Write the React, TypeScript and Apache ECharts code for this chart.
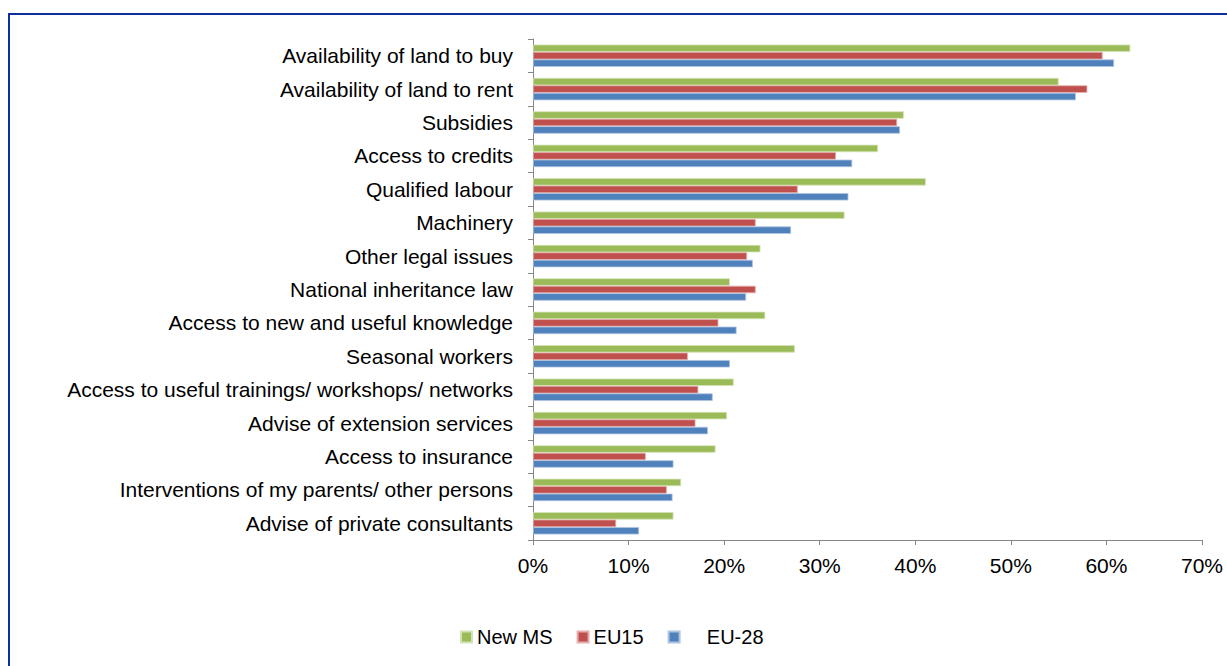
import React, { useEffect, useRef } from "react";
import * as echarts from "echarts";

const categories = [
  "Availability of land to buy",
  "Availability of land to rent",
  "Subsidies",
  "Access to credits",
  "Qualified labour",
  "Machinery",
  "Other legal issues",
  "National inheritance law",
  "Access to new and useful knowledge",
  "Seasonal workers",
  "Access to useful trainings/ workshops/ networks",
  "Advise of extension services",
  "Access to insurance",
  "Interventions of my parents/ other persons",
  "Advise of private consultants",
];

const newMS = [62.5, 55.0, 38.8, 36.1, 41.1, 32.6, 23.8, 20.6, 24.3, 27.4, 21.0, 20.3, 19.1, 15.5, 14.7];
const eu15 = [59.6, 58.0, 38.1, 31.7, 27.7, 23.3, 22.4, 23.3, 19.4, 16.2, 17.3, 17.0, 11.8, 14.0, 8.7];
const eu28 = [60.8, 56.8, 38.4, 33.4, 33.0, 27.0, 23.0, 22.3, 21.3, 20.6, 18.8, 18.3, 14.7, 14.6, 11.1];

const xTicks = [0, 10, 20, 30, 40, 50, 60, 70];

const FONT = "'Liberation Sans', Arial, sans-serif";

export default function App() {
  const ref = useRef<HTMLDivElement>(null);
  useEffect(() => {
    if (!ref.current) return;
    const chart = echarts.init(ref.current, undefined, { renderer: "svg" });
    const mkSeries = (name: string, data: number[], color: string, border: string) => ({
      name,
      type: "bar",
      data,
      barGap: "0%",
      barCategoryGap: "33%",
      itemStyle: { color, borderColor: border, borderWidth: 0.8 },
    });
    chart.setOption({
      animation: false,
      textStyle: { fontFamily: FONT },
      graphic: [
        {
          type: "rect",
          shape: { x: 9, y: 14, width: 1260, height: 700 },
          style: { fill: "none", stroke: "#0f2fa0", lineWidth: 2 },
          silent: true,
        },
      ],
      legend: {
        top: 622,
        left: 455,
        itemWidth: 11,
        itemHeight: 11,
        itemGap: 24,
        icon: "rect",
        textStyle: { fontSize: 20, color: "#000", fontFamily: FONT, padding: [0, 0, 0, 0] },
        formatter: (name: string) => (name === "EU-28" ? "    " + name : name),
        data: ["New MS", "EU15", "EU-28"],
      },
      grid: { left: 533, right: 25, top: 39, bottom: 126, containLabel: false },
      xAxis: {
        type: "value",
        min: xTicks[0],
        max: xTicks[xTicks.length - 1],
        interval: 10,
        splitLine: { show: false },
        axisLine: { show: true, lineStyle: { color: "#868686", width: 1 } },
        axisTick: { show: true, length: 5, lineStyle: { color: "#868686" } },
        axisLabel: {
          formatter: (v: number) => v + "%",
          fontSize: 21,
          color: "#000",
          margin: 15,
          fontFamily: FONT,
        },
      },
      yAxis: {
        type: "category",
        inverse: true,
        data: categories,
        axisLine: { show: true, lineStyle: { color: "#868686", width: 1 } },
        axisTick: { show: true, length: 5, lineStyle: { color: "#868686" } },
        axisLabel: { fontSize: 21, color: "#000", margin: 20, fontFamily: FONT },
      },
      series: [
        mkSeries("New MS", newMS, "#9BBB59", "#d4e3b5"),
        mkSeries("EU15", eu15, "#C0504D", "#e3aeac"),
        mkSeries("EU-28", eu28, "#4F81BD", "#aec3e0"),
      ],
    });
    return () => chart.dispose();
  }, []);
  return (
    <div
      ref={ref}
      style={{ position: "fixed", left: 0, top: 0, width: 1227, height: 666, background: "#fff" }}
    />
  );
}
